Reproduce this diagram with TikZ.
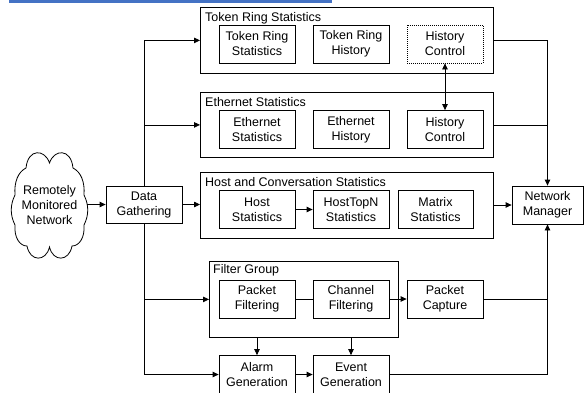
\documentclass[tikz,border=0pt]{standalone}
\usepackage{fontspec}
\setmainfont{Liberation Sans}
\usetikzlibrary{arrows.meta}
\definecolor{linkblue}{HTML}{4472C4}
\begin{document}
\begin{tikzpicture}[x=1pt,y=-1pt,
  every node/.style={font=\fontsize{12.5}{15}\selectfont, inner sep=0pt},
  box/.style={draw, line width=0.8pt, minimum width=76pt, minimum height=38pt, align=center},
  group/.style={draw, line width=0.8pt, anchor=north west},
  title/.style={anchor=base west},
  conn/.style={line width=0.8pt},
  arr/.style={conn, -{Triangle[length=6pt,width=5.5pt]}},
  darr/.style={conn, {Triangle[length=6pt,width=5.5pt]}-{Triangle[length=6pt,width=5.5pt]}}]
\useasboundingbox (0,0) rectangle (584,392);
\fill[linkblue] (9,0) rectangle (332,2.5);

% group boxes
\node[group, minimum width=293pt, minimum height=66pt] (tro) at (200,7) {};
\node[title] (trot) at (205,21) {Token Ring Statistics};
\node[group, minimum width=293pt, minimum height=65pt] (eo) at (200,92) {};
\node[title] (eot) at (205,106) {Ethernet Statistics};
\node[group, minimum width=293pt, minimum height=66pt] (ho) at (200,172) {};
\node[title] (hot) at (205,186) {Host and Conversation Statistics};
\node[group, minimum width=189pt, minimum height=76pt] (fg) at (209,261) {};
\node[title] (fgt) at (213,273) {Filter Group};

% inner boxes
\node[box] (trs) at (257,44) {Token Ring\\Statistics};
\node[box] (trh) at (351,44) {Token Ring\\History};
\node[box, dash pattern=on 1pt off 1pt] (trc) at (445,44) {History\\Control};
\node[box] (es) at (257,129.5) {Ethernet\\Statistics};
\node[box] (eh) at (351,129.5) {Ethernet\\History};
\node[box] (ec) at (445,129.5) {History\\Control};
\node[box] (hs) at (257,209.5) {Host\\Statistics};
\node[box] (htn) at (351,209.5) {HostTopN\\Statistics};
\node[box, minimum width=75pt] (ms) at (435.5,209.5) {Matrix\\Statistics};
\node[box] (pf) at (257,299) {Packet\\Filtering};
\node[box] (cf) at (351,299) {Channel\\Filtering};
\node[box] (pc) at (445,299) {Packet\\Capture};
\node[box] (ag) at (257,374.5) {Alarm\\Generation};
\node[box] (eg) at (351,374.5) {Event\\Generation};
\node[box, minimum height=37pt] (dg) at (144,204.5) {Data\\Gathering};
\node[box, minimum width=71pt] (nm) at (547.5,205) {Network\\Manager};

% cloud
\draw[line width=0.8pt] (49.5,163) .. controls (45,149) and (28,148) .. (26,168)
  .. controls (18,172) and (14,182) .. (15,195)
  .. controls (10,205) and (10,215) .. (15,225)
  .. controls (14,238) and (20,246) .. (27,246)
  .. controls (30,262) and (46,262) .. (49.5,247)
  .. controls (53,262) and (69,262) .. (72,246)
  .. controls (79,246) and (85,238) .. (84,225)
  .. controls (89,215) and (89,205) .. (84,195)
  .. controls (85,182) and (81,172) .. (73,168)
  .. controls (71,148) and (54,149) .. (49.5,163) -- cycle;
\node[align=center] (cloud) at (49.5,205) {Remotely\\Monitored\\Network};
\coordinate (cle) at (87,204.5);

% connectors
\draw[arr] (cle) -- (dg.west);
\draw[arr] (dg.north) |- (tro.west);
\draw[arr] (dg.north) |- (eo.west);
\draw[arr] (dg.east) -- (dg.east -| ho.west);
\draw[arr] (dg.south) |- (fg.west);
\draw[arr] (dg.south) |- (ag.west);
\draw[darr] (trc.south) -- (ec.north);
\draw[arr] (hs) -- (htn);
\draw[conn] (pf) -- (cf);
\draw[arr] (cf) -- (pc);
\draw[arr] (ag.north |- fg.south) -- (ag.north);
\draw[arr] (eg.north |- fg.south) -- (eg.north);
\draw[arr] (ag) -- (eg);
\draw[arr] (tro.east) -| (nm.north);
\draw[conn] (eo.east) -- (eo.east -| nm.north);
\draw[arr] (ho.east |- nm.west) -- (nm.west);
\draw[arr] (pc.east) -| (nm.south);
\draw[conn] (eg.east) -| (nm.south);
\end{tikzpicture}
\end{document}
